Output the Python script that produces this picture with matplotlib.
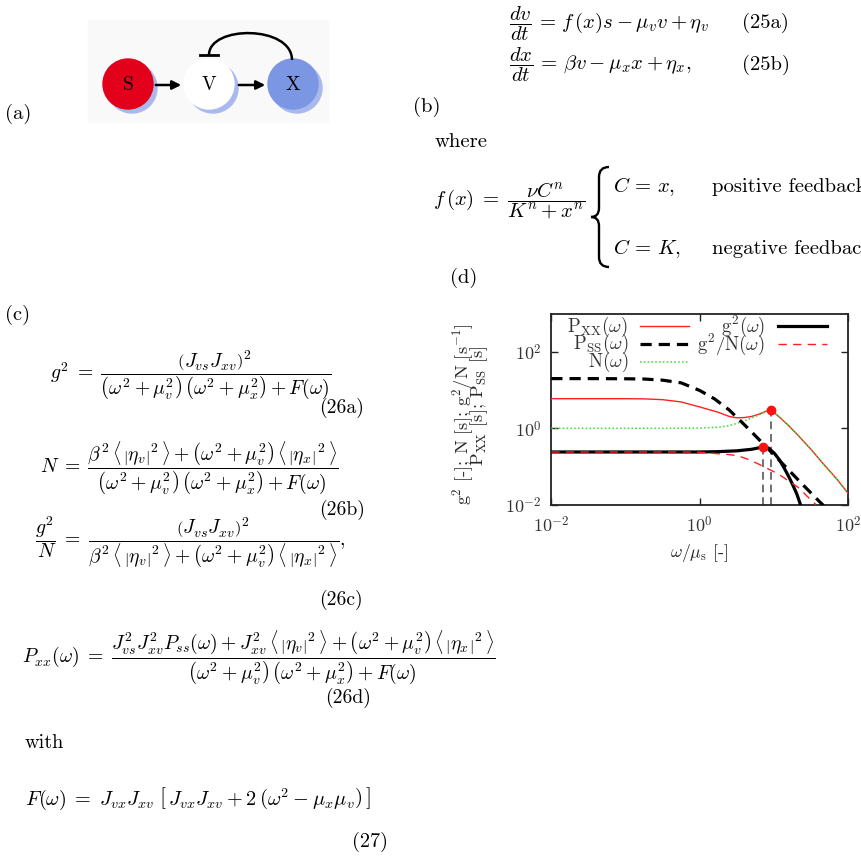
import matplotlib
matplotlib.use("Agg")
import matplotlib.pyplot as plt
from matplotlib.patches import Circle, FancyArrowPatch, PathPatch, Rectangle
from matplotlib.path import Path

plt.rcParams['font.family'] = 'cmr10'
plt.rcParams['mathtext.fontset'] = 'cm'
plt.rcParams['axes.unicode_minus'] = False
plt.rcParams['axes.formatter.use_mathtext'] = True

# values
w_pss = [0.01, 0.0316, 0.1, 0.178, 0.316, 0.562, 1.0, 1.585, 2.512, 3.981,
         6.31, 10.0, 15.85, 25.12, 39.81, 46.8]
p_ss = [20.0, 20.0, 19.8, 19.5, 18.2, 15.5, 9.8, 5.9, 3.0, 1.26,
        0.51, 0.204, 0.081, 0.032, 0.0129, 0.0095]

w_pxx = [0.01, 0.1, 0.178, 0.316, 0.562, 1.0, 1.778, 2.512, 3.162, 3.981,
         5.012, 6.31, 7.943, 9.05, 10.0, 12.59, 15.85, 21.13, 31.62, 48.42,
         70.79, 100.0]
p_xx = [5.96, 5.96, 5.89, 5.62, 4.90, 3.63, 2.63, 2.04, 1.88, 1.91,
        2.04, 2.34, 2.82, 3.07, 2.63, 1.78, 1.17, 0.661, 0.282, 0.107,
        0.0468, 0.020]

w_n = [0.01, 0.1, 0.316, 1.0, 1.778, 2.512, 3.311, 3.981, 5.012, 6.31,
       7.943, 9.05, 10.0, 12.59, 15.85, 21.13, 31.62, 48.42, 70.79, 100.0]
n_w = [1.0, 1.0, 1.0, 1.01, 1.07, 1.17, 1.38, 1.55, 1.86, 2.24,
       2.75, 3.07, 2.63, 1.78, 1.17, 0.661, 0.282, 0.107, 0.0468, 0.020]

w_g2 = [0.01, 0.1, 1.0, 1.778, 3.162, 5.012, 7.13, 8.51, 10.23, 12.02,
        13.96, 15.85, 18.2, 20.42, 22.9]
g2 = [0.24, 0.24, 0.24, 0.245, 0.257, 0.282, 0.324, 0.302, 0.219, 0.145,
      0.087, 0.055, 0.0316, 0.019, 0.010]

w_g2n = [0.01, 0.1, 0.5, 1.0, 1.778, 2.512, 3.311, 4.467, 6.166, 11.35,
         21.13, 33.88, 37.15]
g2n = [0.24, 0.24, 0.24, 0.237, 0.216, 0.205, 0.19, 0.155, 0.117, 0.0646,
       0.0288, 0.0117, 0.010]

peak_w = [7.13, 9.05]
peak_v = [0.324, 3.07]

ticks = [1e-2, 1e0, 1e2]
tick_labels = [r'$10^{-2}$', r'$10^{0}$', r'$10^{2}$']

TOP = 14.9
MID = 14.2
LOW = 14.6

fig = plt.figure(figsize=(8.61, 8.56), dpi=100)
page = fig.add_axes([0, 0, 1, 1])
page.set_xlim(0, 861)
page.set_ylim(856, 0)
page.axis('off')
page.set_facecolor('none')


def put(x, y, s, size, **kw):
    page.text(x, y, s, fontsize=size, color='black', **kw)


# (a) network sketch
page.add_patch(Rectangle((88, 20), 240, 102, color='#f9f9f9', zorder=0))
for cx, face in [(128, '#e2001a'), (209, 'white'), (293, '#7b96e3')]:
    page.add_patch(Circle((cx + 4, 88), 25, color='#a9b9ee', zorder=1))
    page.add_patch(Circle((cx, 84), 25, color=face, zorder=2))
for cx, name in [(128, 'S'), (209, 'V'), (293, 'X')]:
    put(cx, 85, name, 14, ha='center', va='center', zorder=3)
for x0, x1 in [(153, 184), (236, 268)]:
    page.add_patch(FancyArrowPatch((x0, 85), (x1, 85), arrowstyle='-|>',
                                   mutation_scale=13, lw=1.8, color='black',
                                   zorder=3))
arc = Path([(292, 60), (292, 25), (209, 25), (209, 55)],
           [Path.MOVETO, Path.CURVE4, Path.CURVE4, Path.CURVE4])
page.add_patch(PathPatch(arc, fill=False, lw=1.8, color='black', zorder=3))
page.plot([200, 218], [55, 55], color='black', lw=2.0, zorder=3)
put(5, 114, '(a)', TOP, ha='left', va='center')

# (b) model equations
eq = r'\,=\,'
put(509, 28.5, r'$\dfrac{dv}{dt}' + eq + r'f\,(x)s - \mu_v v + \eta_v$', TOP,
    ha='left', va='baseline')
put(509, 70, r'$\dfrac{dx}{dt}' + eq + r'\beta v - \mu_x x + \eta_x,$', TOP,
    ha='left', va='baseline')
put(742, 23.3, '(25a)', TOP, ha='left', va='center')
put(742, 65, '(25b)', TOP, ha='left', va='center')
put(413, 107, '(b)', TOP, ha='left', va='center')
put(435, 146.7, 'where', TOP, ha='left', va='baseline')
put(433, 205, r'$f\,(x)\;=\;\dfrac{\nu C^n}{K^n + x^n}$', TOP,
    ha='left', va='baseline')
brace = Path([(609, 167), (599, 167), (599, 177), (599, 208),
              (599, 217), (591, 217), (599, 217), (599, 226),
              (599, 257), (599, 267), (609, 267)],
             [Path.MOVETO, Path.CURVE3, Path.CURVE3, Path.LINETO,
              Path.CURVE3, Path.CURVE3, Path.CURVE3, Path.CURVE3,
              Path.LINETO, Path.CURVE3, Path.CURVE3])
page.add_patch(PathPatch(brace, fill=False, lw=1.7, color='black'))
put(613, 191.7, r'$C' + eq + 'x,$', TOP, ha='left', va='baseline')
put(712, 191.7, 'positive feedback', TOP, ha='left', va='baseline')
put(613, 254, r'$C' + eq + 'K,$', TOP, ha='left', va='baseline')
put(712, 254, 'negative feedback', TOP, ha='left', va='baseline')
put(450, 278, '(d)', TOP, ha='left', va='center')

# (c) spectra
eqc = r'\;=\;'
put(5, 315, '(c)', TOP, ha='left', va='center')
den = (r'\left(\omega^2+\mu_v^2\right)\,\left(\omega^2+\mu_x^2\right)'
       r'+F(\omega)')
eta_v = r'\left\langle\,\left|\eta_v\right|^2\,\right\rangle'
eta_x = r'\left\langle\,\left|\eta_x\right|^2\,\right\rangle'
noise = (r'\beta^2\,' + eta_v + r' + \left(\omega^2+\mu_v^2\right)\,' + eta_x)
put(50, 377.3, r'$g^2' + eqc + r'\dfrac{\left(J_{vs}J_{xv}\right)^2}{'
    + den + '}$', MID, ha='left', va='baseline')
put(319, 408, '(26a)', MID, ha='left', va='center')
put(40, 472.3, r'$N' + eqc + r'\dfrac{' + noise + '}{' + den + '}$',
    MID, ha='left', va='baseline')
put(319, 510, '(26b)', MID, ha='left', va='center')
put(35, 545.3, r'$\dfrac{g^2}{N}' + eqc
    + r'\dfrac{\left(J_{vs}J_{xv}\right)^2}{' + noise + '},$',
    MID, ha='left', va='baseline')
put(319, 600, '(26c)', MID, ha='left', va='center')
put(22, 662.3, r'$P_{xx}(\omega)' + eqc
    + r'\dfrac{J_{vs}^2J_{xv}^2P_{ss}(\omega) + J_{xv}^2\,' + eta_v
    + r' + \left(\omega^2+\mu_v^2\right)\,' + eta_x + '}{'
    + den + '}$', MID, ha='left', va='baseline')
put(325, 698, '(26d)', MID, ha='left', va='center')

put(25, 748.3, 'with', LOW, ha='left', va='baseline')
put(25, 805, r'$F(\omega)' + eqc + r'J_{vx}J_{xv}\;\left[\,J_{vx}J_{xv} + '
    r'2\,\left(\omega^2 - \mu_x\mu_v\right)\,\right]$', LOW,
    ha='left', va='baseline')
put(352, 842, '(27)', LOW, ha='left', va='center')

# (d) chart
ax = fig.add_axes([551.3 / 861, 1 - 504.7 / 856, 296.7 / 861, 191 / 856])
ax.set_xscale('log')
ax.set_yscale('log')
ax.plot(w_pxx, p_xx, color='#ff2020', lw=1.0, zorder=3)
ax.plot(w_n, n_w, color='#33dd33', lw=1.1, ls=(0, (1, 1.5)), zorder=4)
ax.plot(w_pss, p_ss, color='black', lw=2.3, ls=(0, (3.5, 2.2)), zorder=5)
ax.plot(w_g2, g2, color='black', lw=2.3, zorder=5)
ax.plot(w_g2n, g2n, color='#ff2020', lw=1.0, ls=(0, (6, 4.5)), zorder=6)
ax.vlines(peak_w, 1e-2, peak_v, colors='#707070', lw=1.4,
          linestyles=(0, (4, 2.5)), zorder=2)
ax.plot(peak_w, peak_v, 'o', color='#ff1010', ms=6, zorder=7)
ax.set_xlim(1e-2, 1e2)
ax.set_ylim(1e-2, 1e3)
ax.set_xticks(ticks)
ax.set_xticklabels(tick_labels)
ax.set_yticks(ticks)
ax.set_yticklabels(tick_labels)
ax.minorticks_off()
ax.tick_params(direction='in', length=5, width=1, top=True, right=True,
               labelsize=13, pad=7, labelcolor='#333333', color='#222222')
for sp in ax.spines.values():
    sp.set_linewidth(1.3)
    sp.set_color('#222222')

# legend, gnuplot style: label then sample
rows = [(0.2595, 0.299, 0.933, r'$\mathrm{P_{XX}}(\omega)$',
         dict(color='#ff2020', lw=1.0)),
        (0.2595, 0.299, 0.841, r'$\mathrm{P_{SS}}(\omega)$',
         dict(color='black', lw=2.3, ls=(0, (3.5, 2.2)))),
        (0.2595, 0.299, 0.747, r'$\mathrm{N}(\omega)$',
         dict(color='#33dd33', lw=1.1, ls=(0, (1, 1.5)))),
        (0.720, 0.763, 0.933, r'$\mathrm{g^2}(\omega)$',
         dict(color='black', lw=2.3)),
        (0.720, 0.763, 0.841, r'$\mathrm{g^2/N}(\omega)$',
         dict(color='#ff2020', lw=1.0, ls=(0, (6, 4.5))))]
for tx, lx, ty, label, style in rows:
    ax.text(tx, ty, label, transform=ax.transAxes, ha='right', va='center',
            fontsize=13.5, color='#333333')
    ax.plot([lx, lx + 0.165], [ty, ty], transform=ax.transAxes, **style)

put(463, 414, r'g$^2$ [-]; N [s]; g$^2$/N [s$^{\mathrm{-1}}$]', 13.2,
    ha='center', va='center', rotation=90, alpha=0.85)
put(479, 406, r'P$_{\mathrm{XX}}$ [s]; P$_{\mathrm{SS}}$ [s]', 13.2,
    ha='center', va='center', rotation=90, alpha=0.85)
put(699, 553, r'$\omega/\mu_{\mathrm{s}}$ [-]', 12.8, ha='center',
    va='center', alpha=0.85)

fig.savefig('out.png', dpi=100)
